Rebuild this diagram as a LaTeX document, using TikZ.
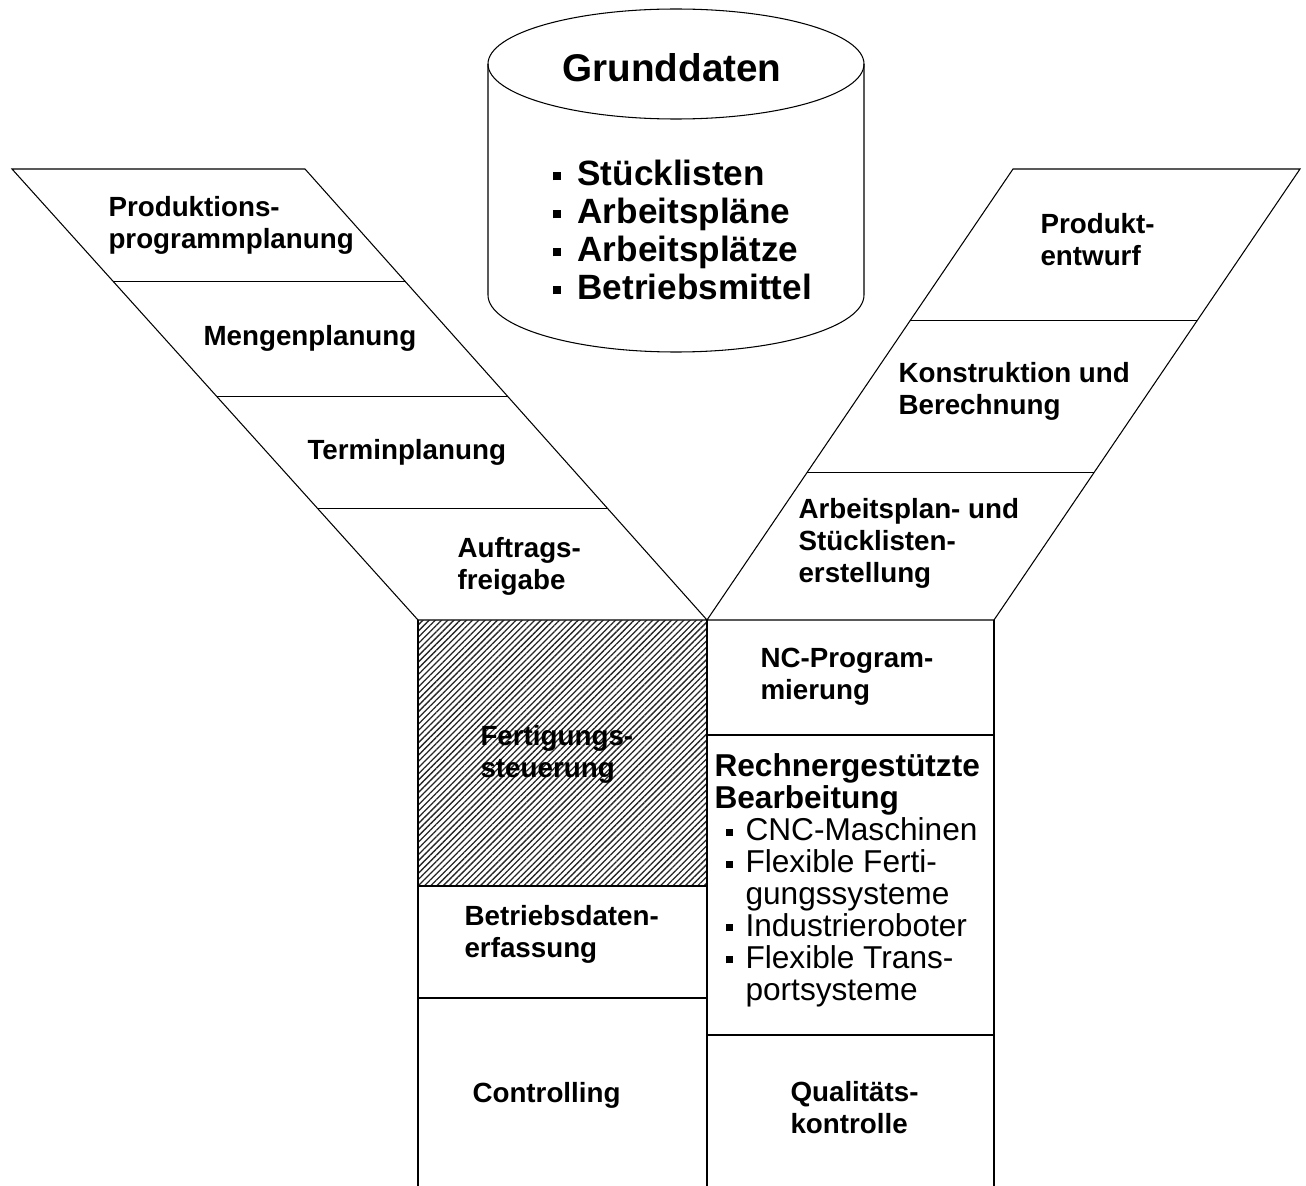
\documentclass[tikz,border=0pt]{standalone}
\usepackage{fontspec}
\setmainfont{Liberation Sans}
\usetikzlibrary{calc,patterns.meta}
\newcommand{\sqbul}[1]{\rule[0.28ex]{#1}{#1}}

\begin{document}
\begin{tikzpicture}[x=0.02cm, y=-0.02cm, line width=0.6pt,
    armlabel/.style={anchor=west, align=left, inner sep=0pt,
        font=\fontsize{15.8}{18.2}\selectfont\bfseries},
    collabel/.style={anchor=west, align=left, inner sep=0pt,
        font=\fontsize{18}{18.2}\selectfont}]
    \useasboundingbox (0,0) rectangle (1306,1186);
    \fill[white] (0,0) rectangle (1306,1186);

    % Grunddaten store
    \draw (488,64) -- (488,295) arc[start angle=180, end angle=0, x radius=188, y radius=57] -- (864,64);
    \draw (676,64) ellipse[x radius=188, y radius=55];
    \node[font=\fontsize{22}{26}\selectfont\bfseries] (grunddaten) at (672,68) {Grunddaten};
    \node[anchor=west, align=left, inner sep=0pt, font=\fontsize{20}{21.6}\selectfont\bfseries] (grundlisten) at (552,230)
        {\sqbul{0.17cm}\hspace{0.33cm}Stücklisten\\
         \sqbul{0.17cm}\hspace{0.33cm}Arbeitspläne\\
         \sqbul{0.17cm}\hspace{0.33cm}Arbeitsplätze\\
         \sqbul{0.17cm}\hspace{0.33cm}Betriebsmittel};

    % Left arm
    \coordinate (ltl) at (12,169);
    \coordinate (ltr) at (305,169);
    \coordinate (lbl) at (418,620);
    \coordinate (lbr) at (707,620);
    \draw (ltl) -- (ltr) -- (lbr) -- (lbl) -- cycle;
    \foreach \t in {0.25,0.505,0.752}
        \draw ($(ltl)!\t!(lbl)$) -- ($(ltr)!\t!(lbr)$);

    % Right arm
    \coordinate (rtl) at (1013,169);
    \coordinate (rtr) at (1300,169);
    \coordinate (rbl) at (707,620);
    \coordinate (rbr) at (994,620);
    \draw (rtl) -- (rtr) -- (rbr) -- (rbl) -- cycle;
    \foreach \t in {0.335,0.672}
        \draw ($(rtl)!\t!(rbl)$) -- ($(rtr)!\t!(rbr)$);

    % Lower columns
    \fill[pattern={Lines[angle=45, distance=2.5pt, line width=0.75pt]}, pattern color=black!85] (418,620) rectangle (707,886);
    \draw (418,620) -- (418,1186);
    \draw (707,620) -- (707,1186);
    \draw (994,620) -- (994,1186);
    \draw (418,886) -- (707,886);
    \draw (418,998) -- (707,998);
    \draw (707,735) -- (994,735);
    \draw (707,1035) -- (994,1035);

    % Left labels
    \node[armlabel] (prodprog) at (108,225) {Produktions-\\programmplanung};
    \node[armlabel] (mengen) at (203,338) {Mengenplanung};
    \node[armlabel] (termin) at (307,452) {Terminplanung};
    \node[armlabel] (auftrag) at (457,566) {Auftrags-\\freigabe};
    \node[armlabel] (fertigung) at (480,754) {Fertigungs-\\steuerung};
    \node[armlabel] (bde) at (464,934) {Betriebsdaten-\\erfassung};
    \node[armlabel] (controlling) at (472,1095) {Controlling};

    % Right labels
    \node[armlabel] (produkt) at (1040,240) {Produkt-\\entwurf};
    \node[armlabel] (konstruktion) at (898,391) {Konstruktion und\\Berechnung};
    \node[armlabel] (arbeitsplan) at (798,543) {Arbeitsplan- und\\Stücklisten-\\erstellung};
    \node[armlabel] (ncprog) at (760,677) {NC-Program-\\mierung};
    \node[collabel] (bearbeitung) at (714,880)
        {{\bfseries Rechnergestützte}\\
         {\bfseries Bearbeitung}\\
         \makebox[0.62cm][r]{\sqbul{0.14cm}\hspace{0.26cm}}CNC-Maschinen\\
         \makebox[0.62cm][r]{\sqbul{0.14cm}\hspace{0.26cm}}Flexible Ferti-\\
         \hspace*{0.62cm}gungssysteme\\
         \makebox[0.62cm][r]{\sqbul{0.14cm}\hspace{0.26cm}}Industrieroboter\\
         \makebox[0.62cm][r]{\sqbul{0.14cm}\hspace{0.26cm}}Flexible Trans-\\
         \hspace*{0.62cm}portsysteme};
    \node[armlabel] (qualitaet) at (790,1108) {Qualitäts-\\kontrolle};
\end{tikzpicture}
\end{document}
